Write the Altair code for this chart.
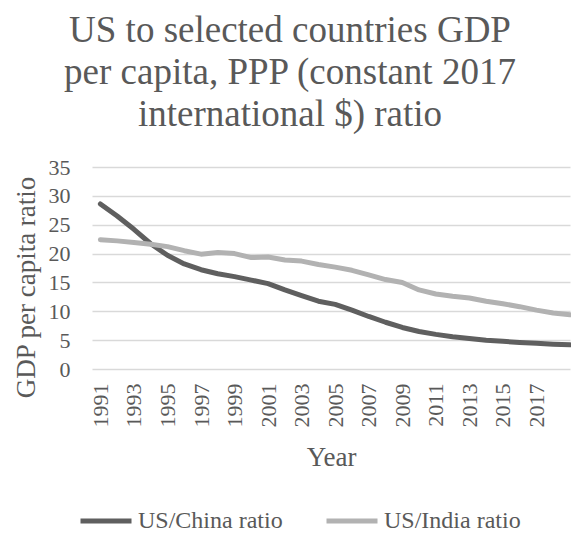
import altair as alt
import pandas as pd

years = list(range(1991, 2020))
china = [28.6, 26.5, 24.2, 21.7, 19.7, 18.2, 17.2, 16.5, 16.0, 15.4,
         14.8, 13.7, 12.7, 11.75, 11.2, 10.2, 9.1, 8.1, 7.2, 6.5,
         6.0, 5.6, 5.3, 5.0, 4.8, 4.6, 4.45, 4.3, 4.2]
india = [22.4, 22.2, 21.9, 21.6, 21.2, 20.5, 19.9, 20.2, 20.0, 19.3,
         19.4, 18.9, 18.7, 18.1, 17.65, 17.1, 16.3, 15.5, 15.0, 13.7,
         13.0, 12.6, 12.3, 11.75, 11.3, 10.8, 10.2, 9.7, 9.4]
series_names = ["US/China ratio", "US/India ratio"]
series_colors = ["#5f5f5f", "#b2b2b2"]
year_ticks = list(range(1991, 2018, 2))
y_ticks = [0, 5, 10, 15, 20, 25, 30, 35]

rows = []
for y, c, i in zip(years, china, india):
    rows.append({"Year": y, "Series": series_names[0], "Value": c})
    rows.append({"Year": y, "Series": series_names[1], "Value": i})
df = pd.DataFrame(rows)

FONT = "Liberation Serif"
TXT = "#595959"

chart = alt.Chart(df).mark_line(strokeWidth=5, strokeCap="round", strokeJoin="round").encode(
    x=alt.X("Year:Q",
            scale=alt.Scale(domain=[1990.5, 2019], nice=False, zero=False),
            axis=alt.Axis(values=year_ticks, format="d", labelAngle=270, grid=False,
                          domain=False, ticks=False, labelPadding=14,
                          labelFontSize=22, labelColor=TXT, labelFont=FONT,
                          title="Year", titleFontSize=27, titleFontWeight="normal",
                          titleColor=TXT, titleFont=FONT,
                          titleY=96, titleBaseline="alphabetic")),
    y=alt.Y("Value:Q",
            scale=alt.Scale(domain=[0, 35], nice=False),
            axis=alt.Axis(values=y_ticks, grid=True, gridColor="#d9d9d9", gridWidth=1.5,
                          domain=False, ticks=False, labelPadding=22,
                          labelFontSize=22, labelColor=TXT, labelFont=FONT,
                          title="GDP per capita ratio", titleFontSize=27,
                          titleFontWeight="normal", titleColor=TXT, titleFont=FONT,
                          titleX=-66, titleY=120, titleAlign="center",
                          titleBaseline="middle", titleAngle=270)),
    color=alt.Color("Series:N",
                    scale=alt.Scale(domain=series_names, range=series_colors),
                    legend=alt.Legend(title=None, orient="none", direction="horizontal",
                                      legendX=-14, legendY=326,
                                      symbolType="stroke", symbolSize=2601,
                                      symbolStrokeWidth=5, labelOffset=4,
                                      columnPadding=33, labelFontSize=24,
                                      labelColor=TXT, labelFont=FONT)),
).properties(
    width=478,
    height=202,
    title=alt.TitleParams(
        text=["US to selected countries GDP", "per capita, PPP (constant 2017",
              "international $) ratio"],
        fontSize=37, font=FONT, fontWeight="normal", color=TXT,
        lineHeight=42, anchor="middle", dx=-41, offset=22),
    autosize=alt.AutoSizeParams(type="none"),
    padding={"left": 92, "top": 167, "right": 1, "bottom": 164},
).configure_view(stroke=None).configure_legend(symbolStrokeColor=None)

chart.save("out.html", embed_options={"renderer": "svg", "actions": False})
